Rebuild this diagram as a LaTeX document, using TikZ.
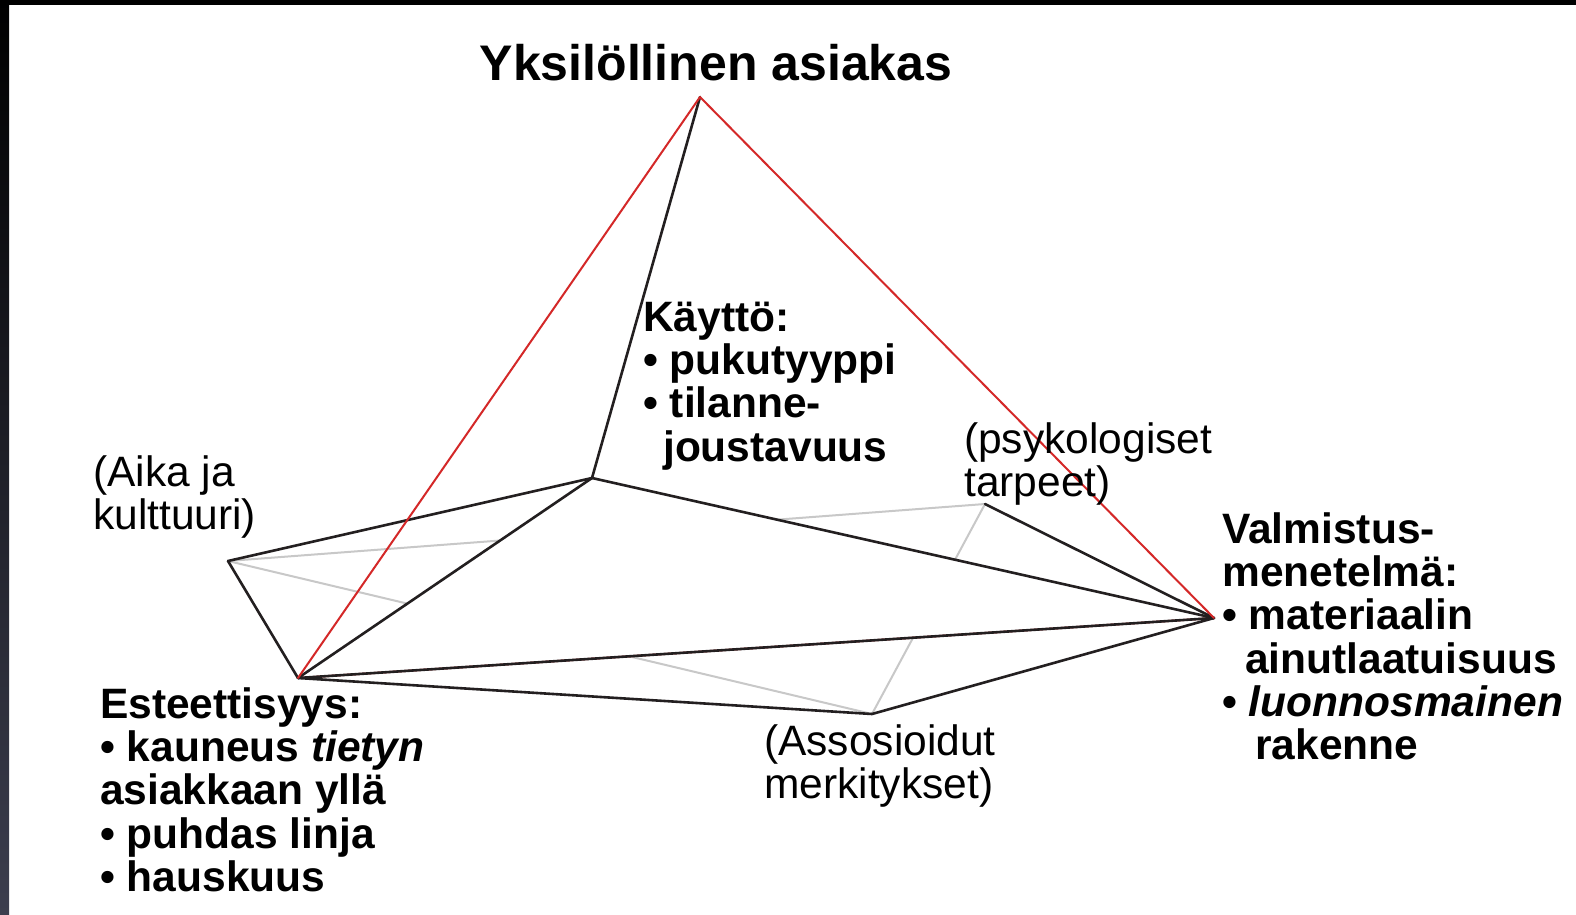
\documentclass[tikz,border=0pt]{standalone}
\usepackage{fontspec}
\setmainfont{Liberation Sans}
\definecolor{redl}{RGB}{212,40,40}
\definecolor{ink}{RGB}{35,31,32}
\definecolor{grayl}{RGB}{200,200,200}
\definecolor{frameb}{RGB}{60,62,78}
\begin{document}
\begin{tikzpicture}[x=1pt,y=-1pt,
  blk/.style={draw=ink,line width=2.6pt,line join=round,line cap=round},
  rd/.style={draw=redl,line width=2pt,line cap=round},
  gr/.style={draw=grayl,line width=2pt,line cap=round},
  lbl/.style={anchor=base west,inner sep=0pt,font=\fontsize{42.5}{42}\selectfont},
  ttl/.style={anchor=base,inner sep=0pt,font=\fontsize{50}{50}\selectfont\bfseries},
]
\useasboundingbox (0,0) rectangle (1576,915);
\fill[white] (0,0) rectangle (1576,915);
\shade[top color=black,bottom color=frameb] (0,0) rectangle (9,915);
\fill[black] (0,0) rectangle (1576,5);

\coordinate (A) at (700,97);
\coordinate (P) at (592,478);
\coordinate (L) at (228,561);
\coordinate (E) at (298,678);
\coordinate (V) at (1214,618);
\coordinate (Q) at (985,504);
\coordinate (S) at (872,714);

% hidden (grey) edges
\draw[gr] (L) -- (Q);
\draw[gr] (L) -- (S);
\draw[gr] (Q) -- (S);
% opaque front face
\fill[white] (P) -- (E) -- (V) -- cycle;
% red edge under the black one
\draw[rd] (E) -- (V);
% black edges
\draw[blk] (A) -- (P);
\draw[blk] (P) -- (L);
\draw[blk] (P) -- (E);
\draw[blk] (P) -- (V);
\draw[blk] (L) -- (E);
\draw[blk] (E) -- (V);
\draw[blk] (E) -- (S);
\draw[blk] (S) -- (V);
\draw[blk] (Q) -- (V);
% red edges
\draw[rd] (A) -- (E);
\draw[rd] (A) -- (V);

% labels
\node[ttl] (title) at (716,81) {Yksilöllinen asiakas};
\node[lbl] (kaytto) at (643,331) {\bfseries\begin{tabular}[t]{@{}l@{}}
Käyttö:\\
• pukutyyppi\\
• tilanne-\\
\hspace{20pt}joustavuus
\end{tabular}};
\node[lbl] (aika) at (93,486) {\begin{tabular}[t]{@{}l@{}}
(Aika ja\\
kulttuuri)
\end{tabular}};
\node[lbl] (psyk) at (964,453) {\begin{tabular}[t]{@{}l@{}}
(psykologiset\\
tarpeet)
\end{tabular}};
\node[lbl] (valm) at (1222,543) {\bfseries\begin{tabular}[t]{@{}l@{}}
Valmistus-\\
menetelmä:\\
• materiaalin\\
\hspace{23pt}ainutlaatuisuus\\
• \textit{luonnosmainen}\\
\hspace{33pt}rakenne
\end{tabular}};
\node[lbl] (este) at (100,718) {\bfseries\begin{tabular}[t]{@{}l@{}}
Esteettisyys:\\
• kauneus \textit{tietyn}\\
asiakkaan yllä\\
• puhdas linja\\
• hauskuus
\end{tabular}};
\node[lbl] (asso) at (764,755) {\begin{tabular}[t]{@{}l@{}}
(Assosioidut\\
merkitykset)
\end{tabular}};
\end{tikzpicture}
\end{document}
